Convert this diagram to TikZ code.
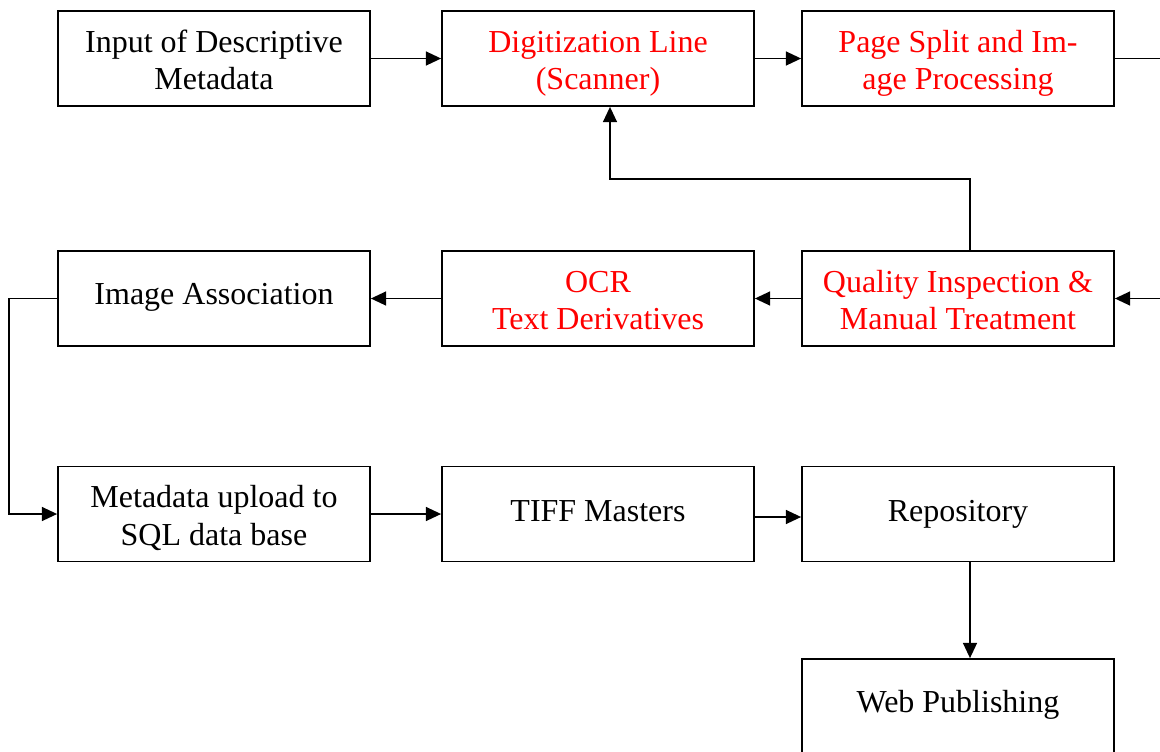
\documentclass[tikz,border=0pt]{standalone}
\usepackage{fontspec}
\setmainfont{Liberation Serif}
\usetikzlibrary{arrows.meta}
\newcommand{\shiftv}[2]{\raisebox{#1}[\height][\depth]{#2}}
\newcommand{\twolines}[2]{\shiftv{-3.75pt}{\begin{tabular}{@{}c@{}}#1\\[0.5pt]#2\end{tabular}}}
\begin{document}
\begin{tikzpicture}[x=0.75pt,y=-0.75pt,
  box/.style={draw,line width=1.3pt,minimum width=234pt,minimum height=71.25pt,inner sep=0pt,align=center,
    font=\fontsize{24pt}{27.75pt}\selectfont},
  redbox/.style={box,text=red},
  arr/.style={line width=1.3pt,-{Triangle[length=11.5pt,width=10.5pt]}}]
\useasboundingbox (0,0) rectangle (1160,751);
\clip (0,0) rectangle (1160,751);
\node[box]    (A) at (214,58.5) {\twolines{Input of Descriptive}{Metadata}};
\node[redbox] (B) at (598,58.5) {\twolines{Digitization Line}{(Scanner)}};
\node[redbox] (C) at (958,58.5) {\twolines{Page Split and Im-}{age Processing}};
\node[redbox] (D) at (958,298.5) {\twolines{Quality Inspection \&}{Manual Treatment}};
\node[redbox] (E) at (598,298.5) {\twolines{OCR}{Text Derivatives}};
\node[box]    (F) at (214,298.5) {\shiftv{0.75pt}{Image Association}};
\node[box]    (G) at (214,514) {\twolines{Metadata upload to}{SQL data base}};
\node[box]    (H) at (598,514) {\shiftv{2.25pt}{TIFF Masters}};
\node[box]    (I) at (958,514) {Repository};
\node[box]    (J) at (958,706.5) {\shiftv{1.5pt}{Web Publishing}};
\coordinate (k) at (610,179);
\coordinate (r1) at (1190,58.5);
\coordinate (r2) at (1190,298.5);
\draw[arr] (A) -- (B);
\draw[arr] (B) -- (C);
\draw[arr] (C.east) -- (r1) -- (r2) -- (D.east);
\draw[arr] ([xshift=9pt]D.north) |- (k) -- ([xshift=9pt]B.south);
\draw[arr] (D) -- (E);
\draw[arr] (E) -- (F);
\draw[arr] (F.west) -- ++(-48,0) |- (G.west);
\draw[arr] (G) -- (H);
\draw[arr] ([yshift=-2.25pt]H.east) -- ([yshift=-2.25pt]I.west);
\draw[arr] ([xshift=9pt]I.south) -- ([xshift=9pt]J.north);
\end{tikzpicture}
\end{document}
